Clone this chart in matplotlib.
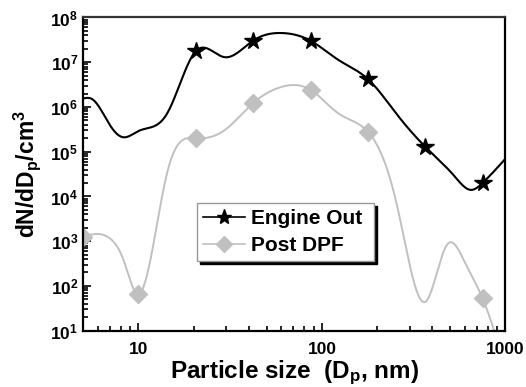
import numpy as np
import matplotlib
matplotlib.use('Agg')
import matplotlib.pyplot as plt
from matplotlib.ticker import FixedLocator, NullFormatter

plt.rcParams['font.family'] = ['Liberation Sans', 'DejaVu Sans']
plt.rcParams['font.weight'] = 'bold'
plt.rcParams['axes.labelweight'] = 'bold'
plt.rcParams['mathtext.fontset'] = 'custom'
plt.rcParams['mathtext.rm'] = 'Liberation Sans:bold'
plt.rcParams['mathtext.it'] = 'Liberation Sans:bold'
plt.rcParams['mathtext.bf'] = 'Liberation Sans:bold'
plt.rcParams['mathtext.default'] = 'bf'

# Engine Out: particle size (nm) and dN/dDp (#/cm3)
eo_size = [5, 5.6, 7.1, 8.3, 10, 14.3, 20.5, 29.4, 42, 60, 87, 124, 178, 255,
           365, 525, 650, 750, 1000]
engine_out = [1.55e6, 1.5e6, 3.6e5, 2.1e5, 2.9e5, 7.0e5, 1.75e7, 1.3e7, 3.0e7,
              4.5e7, 3.0e7, 1.1e7, 4.2e6, 7.0e5, 1.3e5, 2.9e4, 1.4e4, 2.0e4, 7.0e4]
eo_marked = [6, 8, 10, 12, 14, 17]

# Post DPF
pd_size = [5, 7.1, 8.3, 10, 14.3, 20.5, 29.4, 42, 60, 87, 124, 178, 255,
           365, 481, 604, 750, 1000]
post_dpf = [1.26e3, 1.1e3, 380, 65, 3.2e4, 2.0e5, 3.0e5, 1.2e6, 2.8e6,
            2.4e6, 7.0e5, 2.8e5, 7.0e3, 44, 840, 320, 53, 1.5]
pd_marked = [0, 3, 5, 7, 9, 11, 16]

xticks = [10, 100, 1000]
xtick_labels = ['10', '100', '1000']
yticks = [1e1, 1e2, 1e3, 1e4, 1e5, 1e6, 1e7, 1e8]


def spline(x, y, n=800):
    # natural cubic spline in log-log space (smooth line like the original)
    x = np.log10(np.asarray(x, float))
    y = np.log10(np.asarray(y, float))
    k = len(x)
    h = np.diff(x)
    A = np.zeros((k, k))
    b = np.zeros(k)
    A[0, 0] = A[-1, -1] = 1
    for i in range(1, k - 1):
        A[i, i - 1] = h[i - 1]
        A[i, i] = 2 * (h[i - 1] + h[i])
        A[i, i + 1] = h[i]
        b[i] = 6 * ((y[i + 1] - y[i]) / h[i] - (y[i] - y[i - 1]) / h[i - 1])
    M = np.linalg.solve(A, b)
    xs = np.linspace(x[0], x[-1], n)
    j = np.clip(np.searchsorted(x, xs) - 1, 0, k - 2)
    t0 = x[j + 1] - xs
    t1 = xs - x[j]
    hj = h[j]
    ys = (M[j] * t0 ** 3 + M[j + 1] * t1 ** 3) / (6 * hj) \
        + (y[j] / hj - M[j] * hj / 6) * t0 + (y[j + 1] / hj - M[j + 1] * hj / 6) * t1
    return 10 ** xs, 10 ** ys


fig = plt.figure(figsize=(5.26, 3.87), dpi=100)
ax = fig.add_axes([0.158, 0.1455, 0.803, 0.8093])

gray = '#c0c0c0'

xs, ys = spline(eo_size, engine_out)
ax.plot(xs, ys, color='black', lw=1.5)
ax.plot([eo_size[i] for i in eo_marked], [engine_out[i] for i in eo_marked],
        ls='none', marker='*', ms=13, color='black')

xs, ys = spline(pd_size, post_dpf)
ax.plot(xs, ys, color=gray, lw=1.4)
ax.plot([pd_size[i] for i in pd_marked], [post_dpf[i] for i in pd_marked],
        ls='none', marker='D', ms=9, color=gray)

# legend proxies
ax.plot([], [], color='black', lw=1.2, marker='*', ms=11, label='Engine Out ')
ax.plot([], [], color=gray, lw=1.2, marker='D', ms=8, label='Post DPF')
h, l = ax.get_legend_handles_labels()
leg = ax.legend(h[-2:], l[-2:], loc='upper left', bbox_to_anchor=(0.269, 0.408),
                fontsize=15, frameon=True, fancybox=False, handlelength=2.0,
                handletextpad=0.3, borderpad=0.3, borderaxespad=0, labelspacing=0.38,
                shadow={'color': 'black', 'alpha': 1})
leg.get_frame().set_edgecolor('#999999')
leg.get_frame().set_linewidth(1.0)

ax.set_xscale('log')
ax.set_yscale('log')
ax.set_xlim(5, 1000)
ax.set_ylim(1e1, 1e8)

ax.xaxis.set_major_locator(FixedLocator(xticks))
ax.set_xticklabels(xtick_labels)
ax.xaxis.set_minor_locator(FixedLocator([m * 10 ** e for e in range(0, 3) for m in range(2, 10)
                                         if 5 <= m * 10 ** e <= 1000]))
ax.xaxis.set_minor_formatter(NullFormatter())
ax.yaxis.set_major_locator(FixedLocator(yticks))
ax.set_yticklabels([r'$10^{%d}$' % e for e in range(1, 9)])
ax.yaxis.set_minor_locator(FixedLocator([m * 10 ** e for e in range(1, 8) for m in range(2, 10)]))
ax.yaxis.set_minor_formatter(NullFormatter())

ax.tick_params(which='both', direction='in', top=False, right=False, labelsize=12.5, width=1.2)
ax.tick_params(which='major', length=6)
ax.tick_params(which='minor', length=3.5)
ax.tick_params(axis='x', pad=8)
for s in ax.spines.values():
    s.set_linewidth(1.6)
ax.spines['top'].set_color('#333333')

ax.set_xlabel('Particle size  (D$_p$, nm)', fontsize=17.5, labelpad=1)
ax.set_ylabel('dN/dD$_p$/cm$^3$', fontsize=16.5, labelpad=5)

fig.savefig('out.png', dpi=100)
